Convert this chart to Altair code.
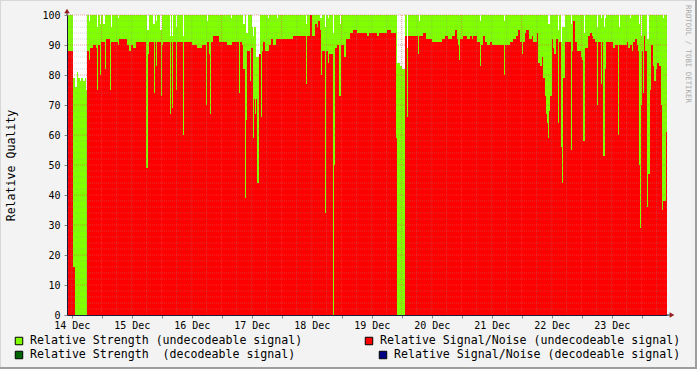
import json
import altair as alt
import pandas as pd

# ---- time base: hours after 14 Dec 00:00, one sample every 24 minutes ----
START_H = 10.12
STEP_H = 0.4
N_SAMPLES = 600
END_H = START_H + STEP_H * N_SAMPLES

# (sample index where the value starts, value) -- step series
snr_steps = [
    (0, 88), (6, 16), (8, 0), (20, 88), (22, 85), (23, 89), (26, 90), (29, 89), (30, 75), (31, 90),
    (33, 80), (34, 91), (38, 82), (39, 92), (43, 75), (44, 91), (51, 90), (52, 92), (60, 90), (62, 88),
    (64, 90), (66, 89), (69, 91), (79, 49), (81, 87), (82, 91), (87, 74), (88, 91), (89, 83), (90, 91),
    (94, 73), (95, 90), (96, 91), (103, 67), (104, 91), (105, 69), (106, 91), (109, 75), (110, 91),
    (116, 60), (117, 91), (125, 90), (130, 89), (135, 90), (139, 70), (140, 91), (142, 87), (143, 67),
    (144, 91), (146, 93), (152, 91), (160, 90), (165, 91), (172, 74), (173, 91), (175, 90), (176, 82),
    (178, 39), (179, 65), (180, 88), (183, 78), (184, 89), (186, 59), (187, 72), (188, 67), (189, 72),
    (190, 44), (192, 87), (194, 66), (195, 88), (196, 91), (198, 88), (202, 90), (204, 92), (206, 90),
    (209, 92), (226, 93), (239, 77), (240, 93), (243, 100), (245, 93), (248, 97), (250, 96), (251, 98),
    (253, 95), (254, 80), (255, 88), (258, 34), (259, 88), (261, 84), (262, 87), (266, 0), (267, 50),
    (268, 89), (270, 90), (272, 73), (274, 90), (277, 86), (279, 92), (283, 94), (286, 95), (290, 94),
    (300, 93), (302, 94), (310, 93), (312, 94), (320, 95), (324, 94), (329, 59), (330, 0), (338, 93),
    (340, 66), (341, 93), (351, 87), (352, 93), (356, 94), (359, 92), (365, 91), (375, 92), (378, 93),
    (381, 92), (385, 93), (388, 95), (390, 92), (391, 90), (392, 85), (393, 92), (396, 93), (400, 92),
    (403, 93), (405, 92), (406, 93), (410, 91), (413, 83), (414, 90), (416, 93), (418, 91), (420, 90),
    (423, 91), (425, 90), (437, 80), (438, 90), (443, 91), (446, 92), (449, 93), (451, 95), (453, 91),
    (455, 87), (456, 91), (458, 94), (459, 95), (462, 92), (465, 93), (466, 91), (470, 94), (471, 84),
    (473, 83), (475, 86), (476, 79), (478, 73), (479, 67), (480, 64), (481, 59), (482, 68), (483, 73),
    (485, 92), (486, 89), (487, 87), (489, 92), (491, 64), (492, 91), (494, 56), (495, 44), (496, 79),
    (498, 91), (504, 55), (505, 88), (506, 98), (508, 91), (510, 88), (514, 86), (515, 85), (516, 58),
    (518, 89), (521, 93), (523, 94), (525, 93), (526, 92), (528, 91), (530, 70), (531, 91), (534, 77),
    (535, 91), (536, 53), (538, 82), (539, 91), (546, 89), (548, 90), (551, 60), (552, 90), (560, 91),
    (561, 89), (563, 90), (565, 88), (566, 91), (568, 92), (570, 90), (571, 88), (572, 50), (573, 29),
    (574, 70), (575, 88), (576, 74), (577, 93), (578, 88), (580, 36), (581, 47), (583, 75), (584, 90),
    (586, 83), (587, 78), (589, 82), (590, 84), (592, 83), (594, 70), (595, 35), (596, 38), (599, 61),
]

strength_steps = [
    (0, 100), (6, 79), (8, 76), (10, 81), (11, 79), (13, 78), (14, 79), (16, 78), (18, 79), (19, 75),
    (20, 100), (22, 98), (23, 100), (30, 96), (31, 100), (33, 97), (34, 100), (36, 97), (38, 100),
    (44, 96), (45, 100), (51, 99), (52, 100), (80, 95), (82, 100), (86, 97), (88, 100), (89, 98),
    (90, 100), (93, 95), (95, 100), (103, 93), (104, 100), (105, 93), (106, 100), (109, 96), (110, 100),
    (116, 93), (117, 100), (140, 98), (141, 100), (164, 99), (165, 100), (176, 97), (178, 100),
    (179, 94), (181, 100), (185, 96), (186, 93), (187, 96), (189, 86), (193, 100), (201, 99), (202, 100),
    (210, 99), (211, 100), (239, 97), (240, 100), (243, 99), (245, 100), (253, 99), (255, 100),
    (258, 96), (259, 100), (261, 99), (262, 100), (266, 94), (267, 100), (273, 97), (274, 100),
    (330, 84), (333, 83), (335, 82), (338, 100), (340, 89), (341, 100), (352, 98), (353, 100),
    (413, 98), (414, 100), (437, 98), (438, 100), (481, 97), (483, 100), (491, 95), (492, 100),
    (494, 91), (495, 96), (498, 100), (504, 97), (505, 100), (517, 94), (518, 100), (530, 96),
    (531, 100), (534, 99), (535, 100), (537, 96), (538, 99), (539, 100), (552, 96), (553, 100),
    (563, 99), (564, 100), (572, 97), (573, 100), (574, 93), (575, 100), (580, 92), (582, 100),
    (596, 99), (597, 100),
]

day_labels = ["14 Dec", "15 Dec", "16 Dec", "17 Dec", "18 Dec",
              "19 Dec", "20 Dec", "21 Dec", "22 Dec", "23 Dec"]
y_ticks = list(range(0, 101, 10))

legend_items = [
    ("Relative Strength (undecodeable signal)", "#80FF00"),
    ("Relative Signal/Noise (undecodeable signal)", "#FF0000"),
    ("Relative Strength\u00a0 (decodeable signal)", "#006400"),
    ("Relative Signal/Noise (decodeable signal)", "#000080"),
]

FONT = "DejaVu Sans Mono"
AXIS_COLOR = "#1c1c3c"
ARROW_COLOR = "#962020"


def to_frame(steps):
    t = [START_H + STEP_H * i for i, _ in steps] + [END_H]
    v = [val for _, val in steps] + [steps[-1][1]]
    return pd.DataFrame({"t": t, "v": v})


x_scale = alt.Scale(domain=[START_H, END_H], nice=False, zero=False)
y_scale = alt.Scale(domain=[0, 100], nice=False)

label_expr = ("datum.value % 24 == 12 ? " + json.dumps(day_labels)
              + "[floor(datum.value / 24)] : ''")

x_axis = alt.Axis(values=[12 * k for k in range(1, 21)], labelExpr=label_expr, title=None,
                  grid=False, tickSize=3, tickColor="#888888", labelPadding=2,
                  labelFont=FONT, labelFontSize=10, labelColor="#000000",
                  domainColor=AXIS_COLOR, domainWidth=1, labelFlush=False,
                  labelOverlap=False, zindex=1)
y_axis = alt.Axis(values=y_ticks, title="Relative Quality", grid=False, tickSize=3,
                  tickColor="#888888", labelPadding=4, labelFont=FONT, labelFontSize=10,
                  labelColor="#000000", domainColor=AXIS_COLOR, domainWidth=1,
                  titleFont=FONT, titleFontSize=11.6, titleFontWeight="normal",
                  titleColor="#000000", titleX=-56, titleY=150, titleAngle=270,
                  titleAlign="center", titleBaseline="middle", zindex=1)

X = alt.X("t:Q", scale=x_scale, axis=x_axis)
Y = alt.Y("v:Q", scale=y_scale, axis=y_axis)

green = alt.Chart(to_frame(strength_steps)).mark_area(
    interpolate="step-after", color="#80FF00").encode(x=X, y=Y)
red = alt.Chart(to_frame(snr_steps)).mark_area(
    interpolate="step-after", color="#FF0000").encode(x=X, y=Y)

minor_y = pd.DataFrame({"v": [v for v in range(2, 100, 2) if v % 10]})
major_y = pd.DataFrame({"v": y_ticks[1:]})
minor_x = pd.DataFrame({"t": [6 * k for k in range(1, 42) if k % 4 and START_H < 6 * k < END_H]})
major_x = pd.DataFrame({"t": [24 * k for k in range(1, 11) if START_H < 24 * k < END_H]})

grid_minor_y = alt.Chart(minor_y).mark_rule(
    color="#8F8F8F", opacity=0.35, strokeDash=[1, 1], strokeWidth=1).encode(y=Y)
grid_major_y = alt.Chart(major_y).mark_rule(
    color="#E05050", opacity=0.55, strokeDash=[1, 1], strokeWidth=1).encode(y=Y)
grid_minor_x = alt.Chart(minor_x).mark_rule(
    color="#8F8F8F", opacity=0.35, strokeDash=[1, 1], strokeWidth=1).encode(x=X)
grid_major_x = alt.Chart(major_x).mark_rule(
    color="#E05050", opacity=0.55, strokeDash=[1, 1], strokeWidth=1).encode(x=X)

one = pd.DataFrame({"a": [0]})

# axis arrows
arrow_up = alt.Chart(one).mark_point(shape="triangle-up", filled=True, size=30,
                                     color=ARROW_COLOR, opacity=1).encode(
    x=alt.value(0), y=alt.value(-4))
arrow_right = alt.Chart(one).mark_point(shape="triangle-right", filled=True, size=30,
                                        color=ARROW_COLOR, opacity=1).encode(
    x=alt.value(605), y=alt.value(300))
axis_ext_y = alt.Chart(one).mark_rule(color=AXIS_COLOR).encode(
    x=alt.value(0), y=alt.value(-5), y2=alt.value(0))
axis_ext_x = alt.Chart(one).mark_rule(color=AXIS_COLOR).encode(
    x=alt.value(599), x2=alt.value(604), y=alt.value(300))

# watermark
watermark = alt.Chart(one).mark_text(
    text="RRDTOOL / TOBI OETIKER", angle=90, align="left", baseline="middle",
    font=FONT, fontSize=7.4, color="#AAAAAA").encode(x=alt.value(620.5), y=alt.value(-10))

# legend
legend_layers = []
positions = [((-48, 326), (-37, 326)), ((302, 326), (313, 326)),
             ((-48, 340), (-37, 340)), ((316, 340), (327, 340))]
for (label, color), ((sx, sy), (tx, ty)) in zip(legend_items, positions):
    legend_layers.append(alt.Chart(one).mark_square(
        size=56, color=color, stroke="#000000", strokeWidth=1, opacity=1).encode(
        x=alt.value(sx), y=alt.value(sy)))
    legend_layers.append(alt.Chart(one).mark_text(
        text=label, align="left", baseline="middle", font=FONT, fontSize=11.6,
        color="#000000").encode(x=alt.value(tx), y=alt.value(ty)))

# outer frame
frame = [
    alt.Chart(one).mark_rule(color="#D8D8D8").encode(
        x=alt.value(-67), x2=alt.value(630), y=alt.value(-14.5)),
    alt.Chart(one).mark_rule(color="#D8D8D8").encode(
        x=alt.value(-66.5), y=alt.value(-15), y2=alt.value(354)),
    alt.Chart(one).mark_rule(color="#9E9E9E", strokeWidth=2).encode(
        x=alt.value(-67), x2=alt.value(630), y=alt.value(353)),
    alt.Chart(one).mark_rule(color="#9E9E9E", strokeWidth=2).encode(
        x=alt.value(629), y=alt.value(-15), y2=alt.value(354)),
]

chart = alt.layer(
    green, red, grid_minor_y, grid_minor_x, grid_major_y, grid_major_x,
    axis_ext_y, axis_ext_x, arrow_up, arrow_right, watermark, *legend_layers, *frame
).properties(
    width=600, height=300,
    autosize=alt.AutoSizeParams(type="none"),
    padding={"left": 67, "top": 15, "right": 30, "bottom": 54},
    background="#F3F3F3",
).configure_view(stroke=None, fill="#FFFFFF")

chart.save("out.html", embed_options={"renderer": "svg", "actions": False})
